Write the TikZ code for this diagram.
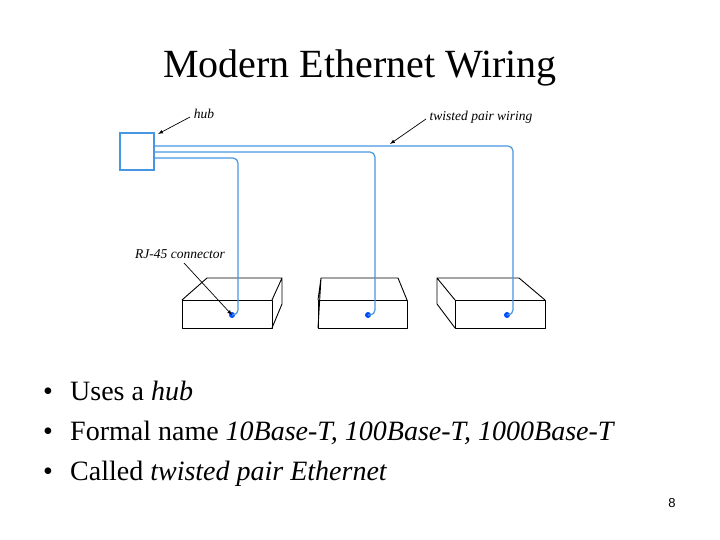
\documentclass[tikz,border=0pt]{standalone}
\usepackage{fontspec}
\setmainfont{Liberation Serif}
\setsansfont{Liberation Sans}
\begin{document}
\begin{tikzpicture}[x=1pt,y=-1pt,
  wire/.style={draw={rgb,255:red,70;green,150;blue,225},line width=1.2pt,rounded corners=5pt},
  dev/.style={draw=black,line width=0.9pt,line join=round},
  lbl/.style={font=\fontsize{13.5}{15}\selectfont\itshape,inner sep=1pt},
  pt/.style={-latex,line width=0.7pt},
  bul/.style={anchor=base west,font=\fontsize{28}{30}\selectfont,inner sep=0pt}]
\useasboundingbox (0,0) rectangle (720,540);
\node (title) at (360,68) {\fontsize{40}{44}\selectfont Modern Ethernet Wiring};
% hub
\node[draw={rgb,255:red,70;green,150;blue,225},line width=1.2pt,minimum width=34pt,minimum height=37pt,inner sep=0pt] (hub) at (137,151.5) {};
% devices
\draw[dev] (182,300) rectangle (272,328);
\draw[dev] (182,300) -- (207,278) -- (282,278) -- (272,300) (282,278) -- (282,304) -- (272,328);
\draw[dev] (318,300) rectangle (407,328);
\draw[dev] (318,300) -- (321,278) -- (398,278) -- (407,300) (321,278) -- (318,328);
\draw[dev] (455,300) rectangle (545,328);
\draw[dev] (545,300) -- (519,278) -- (437,278) -- (455,300) (437,278) -- (437,304) -- (455,328);
% connectors
\coordinate (c1) at (232,315);
\coordinate (c2) at (368,315);
\coordinate (c3) at (507,315);
\fill[blue!70!cyan] (c1) circle (3pt) (c2) circle (3pt) (c3) circle (3pt);
\draw[wire] (hub.east |- 0,146) -- (513,146) -- (513,315) -- (c3);
\draw[wire] (hub.east |- 0,152) -- (375,152) -- (375,315) -- (c2);
\draw[wire] (hub.east |- 0,158) -- (238,158) -- (238,315) -- (c1);
% labels
\node[lbl] (lh) at (204,114) {hub};
\draw[pt] (190,117) -- (158,134);
\node[lbl] (lt) at (481,117) {twisted pair wiring};
\coordinate (tw) at (390,144);
\draw[pt] (426,119) -- (tw);
\node[lbl] (lr) at (180,254) {RJ-45 connector};
\draw[pt] (184,263) -- (c1);
% bullets
\node[bul] (b1) at (70,400) {Uses a \textit{hub}};
\node[bul] (b2) at (70,440) {Formal name \textit{10Base-T, 100Base-T, 1000Base-T}};
\node[bul] (b3) at (70,480) {Called \textit{twisted pair Ethernet}};
\foreach \y in {400,440,480} \node[bul,anchor=base] at (48,\y) {\textbullet};
\node[font=\sffamily\fontsize{13}{14}\selectfont] (pg) at (672,503) {8};
\end{tikzpicture}
\end{document}
